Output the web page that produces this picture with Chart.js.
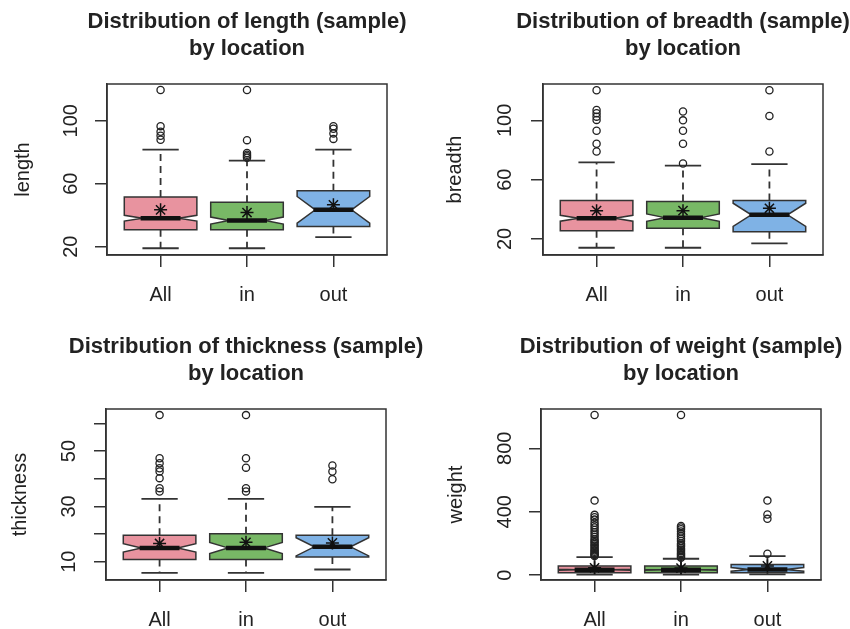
<!DOCTYPE html>
<html>
<head>
<meta charset="utf-8">
<script src="https://cdn.jsdelivr.net/npm/chart.js@4.4.1/dist/chart.umd.min.js"></script>
<style>
  body { margin: 0; background: #fff; width: 850px; height: 629px; overflow: hidden; position: relative; }
  canvas { position: absolute; }
</style>
</head>
<body>
<canvas id="c0" style="left:0;top:0"></canvas>
<canvas id="c1" style="left:425px;top:0"></canvas>
<canvas id="c2" style="left:0;top:325px"></canvas>
<canvas id="c3" style="left:425px;top:325px"></canvas>
<script>
const categories = ['All', 'in', 'out'];
const boxColors = ['#E8939F', '#78B866', '#7FB2E5'];

// [lower whisker, Q1, median, Q3, upper whisker] per category
const lengthBox = [[19, 30.7, 38.1, 51.5, 81.7], [19, 30.7, 36.6, 48.3, 74.7], [26, 32.8, 43.4, 55.5, 81.7]];
const lengthNotch = [1.8, 2.2, 8.5];
const lengthMean = [43.4, 41.7, 46.6];
const lengthOut = [[88, 90.5, 93, 96.6, 119.6], [76.5, 77.5, 78.5, 79.5, 87.7, 119.6], [88.5, 92, 95, 96.6]];
const lengthTicks = [20, 40, 60, 80, 100, 120];
const lengthLabels = [20, 60, 100];

const breadthBox = [[14.1, 25.6, 34, 45.9, 71.6], [14.1, 27.2, 34.4, 45.2, 69.4], [17.1, 24.9, 36.3, 45.9, 70.5]];
const breadthNotch = [2, 2.5, 7.8];
const breadthMean = [39.1, 39.1, 40.7];
const breadthOut = [[79, 84.2, 93, 100.3, 102.5, 104.8, 107, 120.3], [70.9, 84.2, 93, 100, 106], [79, 103, 120.3]];
const breadthTicks = [20, 40, 60, 80, 100, 120];
const breadthLabels = [20, 60, 100];

const thicknessBox = [[6, 10.8, 15, 19.6, 32.7], [6, 10.8, 15, 20.1, 32.7], [7.2, 11.7, 15.4, 19.6, 29.8]];
const thicknessNotch = [1.5, 2, 3.3];
const thicknessMean = [16.6, 17, 16.8];
const thicknessOut = [[35.4, 36.6, 40.2, 42.6, 43.8, 45.6, 47.4, 63], [35.4, 36.6, 44, 47.4, 63], [39.8, 42.6, 44.8]];
const thicknessTicks = [10, 20, 30, 40, 50, 60];
const thicknessLabels = [10, 30, 50];

const weightBox = [[3, 15, 34, 57, 113], [3, 15, 33, 57, 103], [5, 15, 36, 67, 120]];
const weightNotch = [3, 3, 12];
const weightMean = [46, 44, 58];
const weightOut = [
  [120, 126, 132, 140, 148, 156, 165, 175, 185, 195, 205, 215, 225, 240, 255, 270, 285, 300, 315, 330, 350, 365, 380, 470, 1010],
  [110, 116, 124, 132, 140, 150, 160, 170, 180, 190, 200, 215, 230, 245, 260, 275, 290, 300, 310, 1010],
  [135, 355, 382, 470]
];
const weightTicks = [0, 200, 400, 600, 800, 1000];
const weightLabels = [0, 400, 800];

Chart.defaults.font.family = '"Liberation Sans", Arial, sans-serif';
Chart.defaults.color = '#222';

// notched box + dashed whiskers, R style
const notchBox = {
  id: 'notchBox',
  beforeDatasetsDraw(chart, args, opts) {
    const { ctx, scales: { x, y } } = chart;
    ctx.save();
    opts.box.forEach((s, i) => {
      const [lo, q1, med, q3, hi] = s;
      const n = opts.notch[i];
      const cx = x.getPixelForValue(i + 1);
      const hw = x.getPixelForValue(i + 1.42) - cx;
      ctx.strokeStyle = '#333';
      ctx.lineWidth = 1.8;
      ctx.setLineDash([7, 5]);
      ctx.beginPath();
      ctx.moveTo(cx, y.getPixelForValue(q3)); ctx.lineTo(cx, y.getPixelForValue(hi));
      ctx.moveTo(cx, y.getPixelForValue(q1)); ctx.lineTo(cx, y.getPixelForValue(lo));
      ctx.stroke();
      ctx.setLineDash([]);
      ctx.beginPath();
      [lo, hi].forEach(v => {
        const py = y.getPixelForValue(v);
        ctx.moveTo(cx - hw / 2, py); ctx.lineTo(cx + hw / 2, py);
      });
      ctx.stroke();

      const pts = [[-1, q1], [1, q1], [1, med - n], [0.5, med], [1, med + n], [1, q3],
                   [-1, q3], [-1, med + n], [-0.5, med], [-1, med - n]];
      ctx.beginPath();
      pts.forEach(([dx, v], k) => {
        const px = cx + dx * hw, py = y.getPixelForValue(v);
        if (k) ctx.lineTo(px, py); else ctx.moveTo(px, py);
      });
      ctx.closePath();
      ctx.fillStyle = opts.colors[i];
      ctx.fill();
      ctx.lineWidth = 1.5;
      ctx.stroke();

      const my = y.getPixelForValue(med);
      ctx.strokeStyle = '#111';
      ctx.lineWidth = 4.5;
      ctx.beginPath();
      ctx.moveTo(cx - hw * 0.55, my); ctx.lineTo(cx + hw * 0.55, my);
      ctx.stroke();
    });
    ctx.restore();
  }
};

const frame = {
  id: 'frame',
  afterDraw(chart) {
    const { ctx, chartArea: a } = chart;
    ctx.save();
    ctx.strokeStyle = '#333';
    ctx.lineWidth = 1.5;
    ctx.strokeRect(a.left, a.top, a.right - a.left, a.bottom - a.top);
    ctx.restore();
  }
};

// canvas is symmetric about the plot box (empty right axis) so the title centres over it
function drawPanel(id, name, box, notch, means, outliers, ticks, labels, yMin, yMax, yWidth, labelPad, titlePad) {
  const canvas = document.getElementById(id);
  canvas.width = 2 * yWidth + 280;
  canvas.height = 304;
  new Chart(canvas, {
    type: 'scatter',
    data: {
      datasets: [
        {
          label: 'outliers',
          data: outliers.flatMap((arr, i) => arr.map(v => ({ x: i + 1, y: v }))),
          pointStyle: 'circle',
          pointRadius: 3.6,
          pointBorderWidth: 1.3,
          borderColor: '#222',
          backgroundColor: 'rgba(0,0,0,0)'
        },
        {
          label: 'mean',
          data: means.map((v, i) => ({ x: i + 1, y: v })),
          pointStyle: 'star',
          pointRadius: 6.5,
          pointBorderWidth: 1.5,
          borderColor: '#111',
          backgroundColor: '#111'
        }
      ]
    },
    options: {
      responsive: false,
      animation: false,
      layout: { padding: 0 },
      scales: {
        x: {
          type: 'linear',
          min: 0.38,
          max: 3.62,
          afterBuildTicks: s => { s.ticks = [1, 2, 3].map(v => ({ value: v })); },
          afterFit: s => { s.height = 49; },
          ticks: { callback: v => categories[v - 1], font: { size: 20 }, padding: 16, color: '#222' },
          grid: { drawOnChartArea: false, drawTicks: true, tickLength: 12, color: '#333', lineWidth: 1.5 },
          border: { display: true, color: '#333', width: 1.5 }
        },
        y: {
          min: yMin,
          max: yMax,
          afterBuildTicks: s => { s.ticks = ticks.map(v => ({ value: v })); },
          afterFit: s => { s.width = yWidth; },
          ticks: {
            callback: v => labels.includes(v) ? String(v) : '',
            font: { size: 20 },
            minRotation: 90,
            maxRotation: 90,
            crossAlign: 'center',
            padding: labelPad,
            color: '#222'
          },
          grid: { drawOnChartArea: false, drawTicks: true, tickLength: 12, color: '#333', lineWidth: 1.5 },
          border: { display: true, color: '#333', width: 1.5 },
          title: { display: true, text: name, font: { size: 20 }, padding: { top: titlePad, bottom: 0 }, color: '#222' }
        },
        pad: {
          position: 'right',
          min: yMin,
          max: yMax,
          afterFit: s => { s.width = yWidth; },
          ticks: { display: false },
          grid: { display: false },
          border: { display: false }
        }
      },
      plugins: {
        legend: { display: false },
        tooltip: { enabled: false },
        title: {
          display: true,
          text: ['Distribution of ' + name + ' (sample)', 'by location'],
          font: { size: 22, weight: 'bold', lineHeight: 1.25 },
          color: '#222',
          padding: { top: 8, bottom: 21 }
        },
        notchBox: { box: box, notch: notch, colors: boxColors }
      }
    },
    plugins: [notchBox, frame]
  });
}

drawPanel('c0', 'length', lengthBox, lengthNotch, lengthMean, lengthOut, lengthTicks, lengthLabels, 14.7, 123.4, 107, 7, 11.5);
drawPanel('c1', 'breadth', breadthBox, breadthNotch, breadthMean, breadthOut, breadthTicks, breadthLabels, 9.2, 124.5, 118, 9, 18.5);
drawPanel('c2', 'thickness', thicknessBox, thicknessNotch, thicknessMean, thicknessOut, thicknessTicks, thicknessLabels, 3.4, 65.2, 106, 13, 8);
drawPanel('c3', 'weight', weightBox, weightNotch, weightMean, weightOut, weightTicks, weightLabels, -31, 1048, 116, 7, 19.5);
</script>
</body>
</html>
